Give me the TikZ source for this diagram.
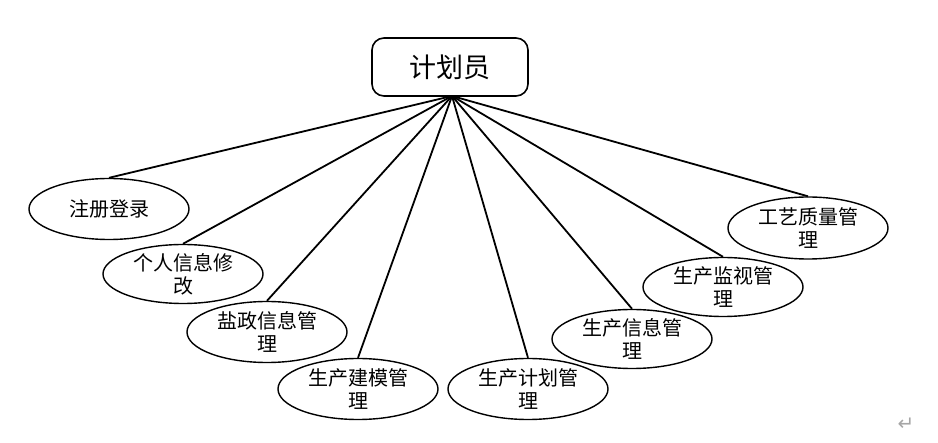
\documentclass[tikz,border=0pt]{standalone}
\usepackage{fontspec}
\newfontfamily\cjk{Noto Sans CJK SC}
\newfontfamily\dejavu{DejaVu Sans}
\usetikzlibrary{shapes.geometric}
\begin{document}
\begin{tikzpicture}[x=1pt,y=-1pt,
  rootbox/.style={draw=black,line width=1.6pt,rounded corners=12pt,minimum width=156pt,minimum height=58pt,inner sep=0pt,font=\cjk\fontsize{27}{30}\selectfont},
  leaf/.style={ellipse,draw=black,line width=1.4pt,fill=white,minimum width=160pt,minimum height=61pt,inner sep=0pt,align=center,font=\cjk\fontsize{20}{23}\selectfont},
  link/.style={line width=1.8pt}]
\useasboundingbox (0,0) rectangle (938,443);
\node[rootbox] (root) at (450,67) {计划员};
\coordinate (hub) at (452,96);
\node[leaf] (e1) at (109,209) {注册登录};
\node[leaf,minimum height=59pt] (e2) at (183,274) {个人信息修\\改};
\node[leaf] (e3) at (267,332) {盐政信息管\\理};
\node[leaf] (e4) at (358,389) {生产建模管\\理};
\node[leaf] (e5) at (528,389) {生产计划管\\理};
\node[leaf,minimum height=59pt] (e6) at (632,339) {生产信息管\\理};
\node[leaf,minimum height=59pt] (e7) at (723,287) {生产监视管\\理};
\node[leaf,minimum height=62pt] (e8) at (808,228) {工艺质量管\\理};
\foreach \n in {e1,e2,e3,e4,e5,e6,e7,e8}
  \draw[link] (hub) -- (\n.north);
\node[text=gray!70,font=\dejavu\fontsize{20}{22}\selectfont] (mark) at (906,424) {↵};
\end{tikzpicture}
\end{document}
